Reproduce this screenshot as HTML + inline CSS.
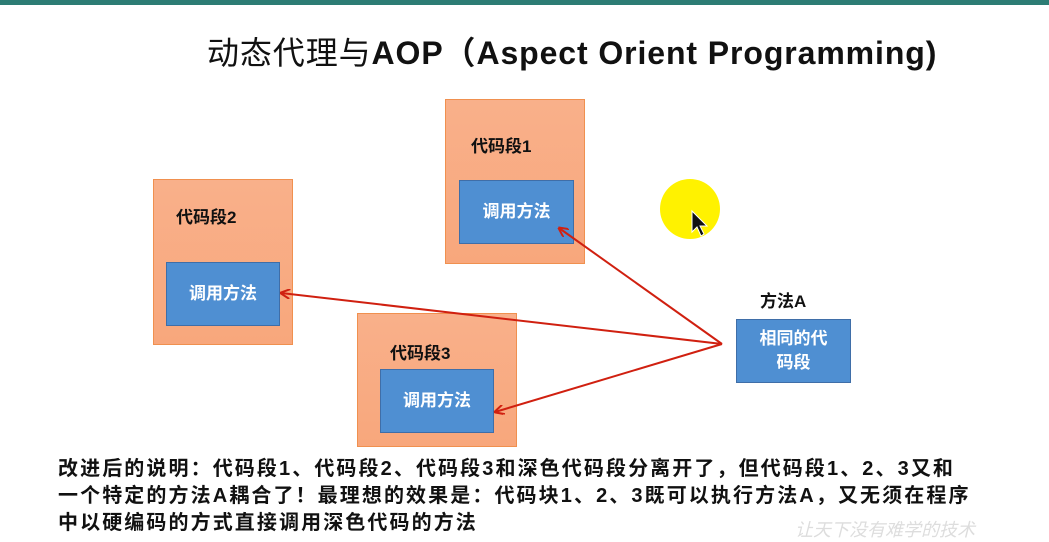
<!DOCTYPE html>
<html><head><meta charset="utf-8"><style>
body{margin:0;width:1049px;height:539px;background:#fff;position:relative;overflow:hidden;font-family:"Liberation Sans","Noto Sans CJK SC",sans-serif}
.a{position:absolute}
.o{position:absolute;background:linear-gradient(#f9b08a,#f8a77c);border:1px solid #f0904f;box-sizing:border-box}
.b{position:absolute;background:#4f8fd2;border:1px solid #3f6ea8;box-sizing:border-box;color:#fff;font-weight:bold;font-size:17px;display:flex;align-items:center;justify-content:center;text-align:center;line-height:24px}
.l{position:absolute;font-weight:bold;font-size:17px;color:#111;white-space:nowrap}
.t{position:absolute;left:58px;font-weight:bold;font-size:20px;color:#111;white-space:nowrap;letter-spacing:2.1px}
</style></head><body>
<div class="a" style="left:0;top:0;width:1049px;height:5px;background:#2d7c74"></div>
<div class="a" style="left:207px;top:28px;font-size:32px;font-weight:bold;color:#111;white-space:nowrap;letter-spacing:0.9px"><span style="font-weight:normal">动态代理与</span>AOP（Aspect Orient Programming)</div>

<div class="o" style="left:445px;top:99px;width:140px;height:165px"></div>
<div class="l" style="left:471px;top:132px">代码段1</div>
<div class="b" style="left:459px;top:180px;width:115px;height:64px">调用方法</div>

<div class="o" style="left:153px;top:179px;width:140px;height:166px"></div>
<div class="l" style="left:176px;top:203px">代码段2</div>
<div class="b" style="left:166px;top:262px;width:114px;height:64px">调用方法</div>

<div class="o" style="left:357px;top:313px;width:160px;height:134px"></div>
<div class="l" style="left:390px;top:339px">代码段3</div>
<div class="b" style="left:380px;top:369px;width:114px;height:64px">调用方法</div>

<div class="l" style="left:760px;top:287px">方法A</div>
<div class="b" style="left:736px;top:319px;width:115px;height:64px">相同的代<br>码段</div>

<div class="a" style="left:660px;top:179px;width:60px;height:60px;border-radius:50%;background:#fff200"></div>
<svg class="a" style="left:0;top:0" width="1049" height="539">
<defs><marker id="m" markerWidth="10" markerHeight="10" refX="9" refY="5" orient="auto" markerUnits="userSpaceOnUse"><path d="M0,0 L10,5 L0,10" fill="none" stroke="#d02010" stroke-width="2"/></marker></defs>
<g stroke="#d02010" stroke-width="2" fill="none">
<line x1="722" y1="344" x2="559" y2="228" marker-end="url(#m)"/>
<line x1="722" y1="344" x2="281" y2="293" marker-end="url(#m)"/>
<line x1="722" y1="344" x2="495" y2="412" marker-end="url(#m)"/>
</g>
<path d="M692,211 L692,232 L697,227 L701,236 L704,234 L700,226 L707,226 Z" fill="#111" stroke="#fff" stroke-width="1"/>
</svg>

<div class="t" style="top:452px">改进后的说明：代码段1、代码段2、代码段3和深色代码段分离开了，但代码段1、2、3又和</div>
<div class="t" style="top:479px">一个特定的方法A耦合了！最理想的效果是：代码块1、2、3既可以执行方法A，又无须在程序</div>
<div class="t" style="top:506px">中以硬编码的方式直接调用深色代码的方法</div>
<div class="a" style="left:795px;top:516px;font-size:18px;color:#ddd;font-style:italic;white-space:nowrap">让天下没有难学的技术</div>
</body></html>
